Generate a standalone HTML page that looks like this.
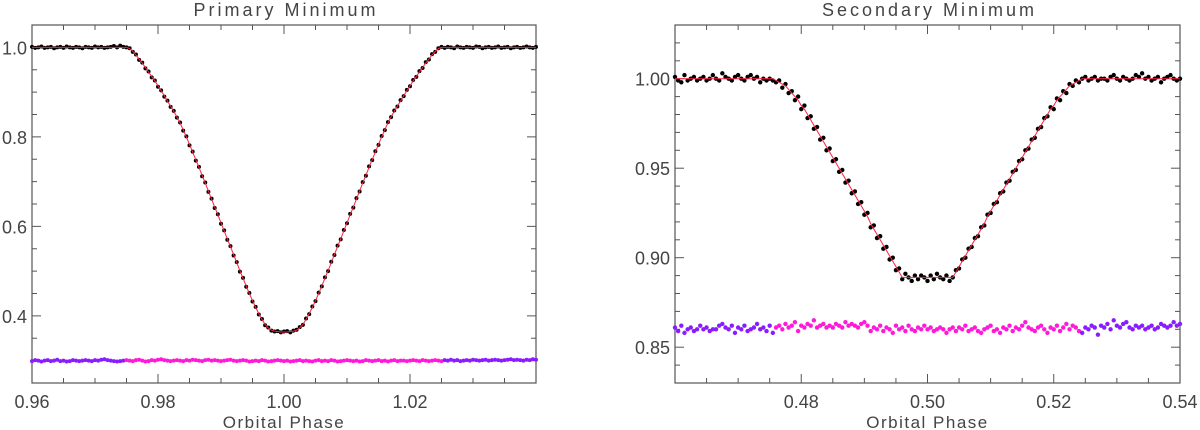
<!DOCTYPE html>
<html><head><meta charset="utf-8">
<style>
html,body{margin:0;padding:0;background:#fff;}
svg{display:block;font-family:"Liberation Sans",sans-serif;}
.tk{font-size:18px;fill:#444;}
.ttl{font-size:18px;fill:#444;letter-spacing:3px;}
.axl{font-size:17px;fill:#444;letter-spacing:1.5px;}
</style></head>
<body>
<svg id="chart" width="1200" height="430" viewBox="0 0 1200 430"></svg>
<script>
// ---------- data ----------
const leftPhaseStart = 0.96, leftPhaseStep = 0.0005;
const leftXTicks = [0.96, 0.98, 1.00, 1.02];
const leftXTickLabels = ["0.96", "0.98", "1.00", "1.02"];
const leftYTicks = [0.4, 0.6, 0.8, 1.0];
const leftYTickLabels = ["0.4", "0.6", "0.8", "1.0"];
const leftObs = [
1.001,0.999,1.000,1.002,0.999,1.000,1.001,0.998,1.000,1.001,0.999,1.002,1.000,0.999,1.001,1.000,0.998,1.001,1.000,0.999,1.002,1.000,1.001,0.999,1.000,1.001,1.003,1.000,1.004,1.001,
1.000,0.998,0.990,0.984,0.972,0.966,0.953,0.946,0.933,0.926,0.912,0.904,0.890,0.881,0.867,0.858,0.843,0.832,0.814,0.801,0.781,0.767,0.747,0.733,0.712,0.698,0.677,0.662,0.641,0.627,0.606,0.591,0.570,0.556,0.535,0.520,0.499,0.485,0.465,0.451,0.432,0.420,0.403,0.393,0.379,0.374,0.367,0.365,0.366,0.363,0.365,
0.366,0.363,0.367,0.369,0.375,0.380,0.394,0.404,0.421,0.433,0.452,0.466,0.486,0.500,0.521,0.536,0.557,0.571,0.592,0.607,0.628,0.642,0.663,0.678,0.699,0.713,0.734,0.748,0.768,0.782,0.802,0.815,0.833,0.844,0.859,0.868,0.882,0.891,0.905,0.913,0.927,0.934,0.947,0.954,0.967,0.973,0.985,0.990,0.998,1.001,
0.999,1.001,1.000,0.998,1.002,1.000,0.999,1.001,1.000,0.999,1.002,1.001,0.998,1.000,1.001,0.999,1.000,1.002,0.999,1.000,1.001,0.998,1.000,1.001,0.999,1.000,1.002,1.000,0.999,1.001];
const leftModel = [
1.000,1.000,1.000,1.000,1.000,1.000,1.000,1.000,1.000,1.000,1.000,1.000,1.000,1.000,1.000,1.000,1.000,1.000,1.000,1.000,1.000,1.000,1.000,1.000,1.000,1.000,1.000,1.000,1.000,1.000,
1.000,0.997,0.991,0.983,0.974,0.965,0.955,0.945,0.935,0.925,0.914,0.903,0.892,0.880,0.869,0.857,0.845,0.831,0.816,0.800,0.783,0.766,0.749,0.732,0.714,0.697,0.679,0.661,0.643,0.626,0.608,0.590,0.572,0.555,0.537,0.519,0.501,0.484,0.467,0.450,0.434,0.419,0.405,0.392,0.381,0.373,0.368,0.366,0.365,0.364,0.364,
0.364,0.365,0.366,0.368,0.373,0.381,0.392,0.405,0.419,0.434,0.450,0.467,0.484,0.501,0.519,0.537,0.555,0.572,0.590,0.608,0.626,0.643,0.661,0.679,0.697,0.714,0.732,0.749,0.766,0.783,0.800,0.816,0.831,0.845,0.857,0.869,0.880,0.892,0.903,0.914,0.925,0.935,0.945,0.955,0.965,0.974,0.983,0.991,0.997,1.000,
1.000,1.000,1.000,1.000,1.000,1.000,1.000,1.000,1.000,1.000,1.000,1.000,1.000,1.000,1.000,1.000,1.000,1.000,1.000,1.000,1.000,1.000,1.000,1.000,1.000,1.000,1.000,1.000,1.000,1.000];
const leftComp = [
0.299,0.301,0.300,0.298,0.300,0.301,0.299,0.300,0.302,0.299,
0.300,0.298,0.299,0.301,0.300,0.299,0.300,0.301,0.300,0.299,
0.301,0.300,0.302,0.303,0.301,0.300,0.299,0.298,0.299,0.300,
0.301,0.300,0.299,0.301,0.302,0.300,0.298,0.299,0.301,0.300,
0.302,0.303,0.301,0.300,0.299,0.300,0.301,0.300,0.299,0.301,
0.300,0.302,0.301,0.300,0.299,0.301,0.302,0.300,0.301,0.300,
0.299,0.300,0.301,0.302,0.300,0.299,0.300,0.301,0.300,0.298,
0.299,0.300,0.299,0.301,0.300,0.298,0.299,0.300,0.301,0.300,
0.299,0.300,0.298,0.299,0.300,0.301,0.299,0.300,0.299,0.298,
0.300,0.301,0.299,0.300,0.299,0.301,0.300,0.298,0.299,0.300,
0.301,0.300,0.299,0.300,0.298,0.299,0.301,0.300,0.299,0.300,
0.301,0.299,0.300,0.298,0.300,0.301,0.299,0.300,0.300,0.299,
0.300,0.301,0.300,0.299,0.301,0.300,0.299,0.300,0.301,0.300,
0.299,0.301,0.300,0.302,0.300,0.301,0.299,0.300,0.301,0.300,
0.302,0.301,0.300,0.301,0.302,0.300,0.301,0.302,0.301,0.300,
0.301,0.302,0.303,0.301,0.302,0.301,0.300,0.302,0.301,0.303,
0.302];
const leftEclipseStart = 0.975, leftEclipseEnd = 1.025;

const rightPhaseStart = 0.46, rightPhaseStep = 0.0005;
const rightXTicks = [0.48, 0.50, 0.52, 0.54];
const rightXTickLabels = ["0.48", "0.50", "0.52", "0.54"];
const rightYTicks = [0.85, 0.90, 0.95, 1.00];
const rightYTickLabels = ["0.85", "0.90", "0.95", "1.00"];
const rightObs = [
1.001,0.999,0.998,1.002,0.999,1.000,1.001,0.999,1.000,1.001,0.999,1.000,1.002,1.000,0.999,1.003,1.001,1.000,0.999,1.001,1.002,1.000,0.999,1.001,1.002,1.000,1.001,0.998,1.000,0.999,1.000,0.999,
0.998,0.999,0.995,0.997,0.992,0.993,0.988,0.990,0.983,0.985,0.978,0.979,0.972,0.973,0.966,0.967,0.960,0.961,0.954,0.955,0.948,0.949,0.942,0.943,0.936,0.937,0.930,0.931,0.924,0.925,0.917,0.918,0.911,0.912,0.905,0.906,0.899,0.900,0.893,0.894,0.888,0.891,0.889,0.887,0.890,0.888,0.890,0.889,0.887,
0.890,0.888,0.891,0.889,0.888,0.890,0.887,0.889,
0.893,0.894,0.899,0.900,0.905,0.906,0.911,0.912,0.917,0.918,0.924,0.925,0.930,0.931,0.936,0.937,0.942,0.943,0.948,0.949,0.954,0.955,0.960,0.961,0.966,0.967,0.972,0.973,0.978,0.979,0.984,0.983,0.989,0.988,0.993,0.992,0.997,0.996,0.999,0.998,
1.000,1.001,0.999,1.000,1.001,0.999,1.000,1.000,0.999,1.001,1.002,1.000,0.999,1.001,1.000,0.999,1.000,1.002,1.001,1.003,1.000,1.001,0.999,1.000,1.001,0.998,1.000,1.001,1.002,1.000,0.999,1.000];
const rightModel = [
1.000,1.000,1.000,1.000,1.000,1.000,1.000,1.000,1.000,1.000,1.000,1.000,1.000,1.000,1.000,1.000,1.000,1.000,1.000,1.000,1.000,1.000,1.000,1.000,1.000,1.000,1.000,1.000,1.000,1.000,1.000,1.000,
0.999,0.998,0.997,0.996,0.994,0.992,0.990,0.988,0.985,0.983,0.980,0.977,0.974,0.971,0.968,0.965,0.962,0.959,0.956,0.953,0.950,0.947,0.944,0.941,0.938,0.935,0.932,0.929,0.926,0.923,0.919,0.916,0.913,0.910,0.907,0.904,0.901,0.898,0.895,0.892,
0.889,0.889,0.889,0.889,0.889,0.889,0.889,0.889,0.889,
0.889,0.889,0.889,0.889,0.889,0.889,0.889,0.889,
0.892,0.895,0.898,0.901,0.904,0.907,0.910,0.913,0.916,0.919,0.923,0.926,0.929,0.932,0.935,0.938,0.941,0.944,0.947,0.950,0.953,0.956,0.959,0.962,0.965,0.968,0.971,0.974,0.977,0.980,0.983,0.985,0.988,0.990,0.992,0.994,0.996,0.997,0.998,0.999,
1.000,1.000,1.000,1.000,1.000,1.000,1.000,1.000,1.000,1.000,1.000,1.000,1.000,1.000,1.000,1.000,1.000,1.000,1.000,1.000,1.000,1.000,1.000,1.000,1.000,1.000,1.000,1.000,1.000,1.000,1.000,1.000];
const rightComp = [
0.861,0.859,0.862,0.858,0.860,0.861,0.859,0.860,0.862,0.860,
0.861,0.859,0.860,0.860,0.862,0.863,0.861,0.860,0.862,0.858,
0.861,0.860,0.862,0.859,0.860,0.861,0.863,0.860,0.861,0.859,
0.862,0.858,0.861,0.862,0.860,0.863,0.861,0.862,0.864,0.859,
0.862,0.861,0.863,0.862,0.865,0.861,0.862,0.863,0.861,0.862,
0.861,0.863,0.862,0.861,0.864,0.862,0.863,0.862,0.861,0.863,
0.864,0.862,0.859,0.861,0.860,0.862,0.859,0.861,0.860,0.858,
0.862,0.860,0.861,0.859,0.862,0.860,0.859,0.861,0.860,0.862,
0.860,0.861,0.859,0.860,0.861,0.860,0.858,0.860,0.861,0.859,
0.861,0.860,0.862,0.859,0.860,0.861,0.859,0.858,0.860,0.861,
0.862,0.859,0.860,0.858,0.861,0.860,0.862,0.859,0.861,0.860,
0.862,0.864,0.861,0.860,0.859,0.861,0.862,0.860,0.858,0.861,
0.860,0.862,0.859,0.861,0.863,0.860,0.862,0.861,0.859,0.858,
0.861,0.860,0.862,0.861,0.857,0.862,0.861,0.863,0.860,0.865,
0.862,0.861,0.863,0.864,0.861,0.860,0.862,0.861,0.862,0.860,
0.861,0.862,0.860,0.861,0.863,0.862,0.861,0.862,0.864,0.862,
0.863];
const rightEclipseStart = 0.476, rightEclipseEnd = 0.524;

// ---------- drawing ----------
const NS = "http://www.w3.org/2000/svg";
const svg = document.getElementById("chart");
function mk(tag, attrs, parent) {
  const e = document.createElementNS(NS, tag);
  for (const k in attrs) e.setAttribute(k, attrs[k]);
  (parent || svg).appendChild(e);
  return e;
}

function drawPanel(cfg) {
  const g = mk("g", {});
  
  
  const xs = v => cfg.x0 + (v - cfg.xmin) / (cfg.xmax - cfg.xmin) * (cfg.x1 - cfg.x0);
  const ys = v => cfg.y1 - (v - cfg.ymin) / (cfg.ymax - cfg.ymin) * (cfg.y1 - cfg.y0);
  const phase = i => cfg.pStart + i * cfg.pStep;

  // minor ticks
  const tg = mk("g", {stroke: "#555", "stroke-width": 1}, g);
  
  
  const nx = Math.round((cfg.xmax - cfg.xmin) / cfg.xMinor);
  for (let k = 0; k <= nx; k++) {
    const v = cfg.xmin + k * cfg.xMinor;
    const major = Math.abs(((v - cfg.xmin) / cfg.xMajor) - Math.round((v - cfg.xmin) / cfg.xMajor)) < 1e-6;
    const L = major ? 9 : 5, X = xs(v);
    mk("line", {x1: X, x2: X, y1: cfg.y1, y2: cfg.y1 - L}, tg);
    mk("line", {x1: X, x2: X, y1: cfg.y0, y2: cfg.y0 + L}, tg);
  }
  const ny = Math.round((cfg.ymax - cfg.ymin) / cfg.yMinor);
  for (let k = 0; k <= ny; k++) {
    const v = cfg.ymin + k * cfg.yMinor;
    const r = (v - cfg.yMajorBase) / cfg.yMajor;
    const major = Math.abs(r - Math.round(r)) < 1e-6;
    const L = major ? 9 : 5, Y = ys(v);
    mk("line", {x1: cfg.x0, x2: cfg.x0 + L, y1: Y, y2: Y}, tg);
    mk("line", {x1: cfg.x1, x2: cfg.x1 - L, y1: Y, y2: Y}, tg);
  }
  const frame = mk("rect", {x: cfg.x0, y: cfg.y0, width: cfg.x1 - cfg.x0, height: cfg.y1 - cfg.y0, fill: "none", stroke: "#555", "stroke-width": 1.2}, g);
  
  

  // tick labels
  cfg.xTicks.forEach((v, i) => {
    const t = mk("text", {x: xs(v), y: 408, "text-anchor": "middle", class: "tk"}, g);
    
    
    t.textContent = cfg.xLabels[i];
  });
  cfg.yTicks.forEach((v, i) => {
    const t = mk("text", {x: cfg.x0 - 5, y: ys(v) + 7, "text-anchor": "end", class: "tk"}, g);
    
    
    t.textContent = cfg.yLabels[i];
  });
  const cx = (cfg.x0 + cfg.x1) / 2;
  const title = mk("text", {x: cx + 2, y: 16, "text-anchor": "middle", class: "ttl"}, g);
  
  
  title.textContent = cfg.title;
  const xl = mk("text", {x: cx, y: 428, "text-anchor": "middle", class: "axl"}, g);
  
  
  xl.textContent = "Orbital Phase";

  // comparison points
  const cg = mk("g", {}, g);
  
  
  cfg.comp.forEach((v, i) => {
    const p = phase(i);
    const out = p < cfg.eS - 1e-9 || p > cfg.eE + 1e-9;
    const c = mk("circle", {cx: xs(p), cy: ys(v), r: cfg.r, fill: out ? "#8a1cff" : "#ff1ad9"}, cg);
    
    
  });
  // observed points
  const og = mk("g", {fill: "#000"}, g);
  
  
  cfg.obs.forEach((v, i) => {
    const c = mk("circle", {cx: xs(phase(i)), cy: ys(v), r: cfg.r}, og);
    
    
  });
  // model line
  const d = cfg.model.map((v, i) => (i ? "L" : "M") + xs(phase(i)).toFixed(2) + " " + ys(v).toFixed(2)).join(" ");
  const ml = mk("path", {d: d, fill: "none", stroke: "#ff2040", "stroke-width": 1}, g);
  
  
}

drawPanel({name: "primary-minimum-panel", title: "Primary Minimum",
  x0: 32, x1: 536, y0: 25, y1: 383, xmin: 0.96, xmax: 1.04, ymin: 0.25, ymax: 1.05,
  xMajor: 0.02, xMinor: 0.005, yMajor: 0.2, yMinor: 0.05, yMajorBase: 0.4,
  xTicks: leftXTicks, xLabels: leftXTickLabels, yTicks: leftYTicks, yLabels: leftYTickLabels,
  pStart: leftPhaseStart, pStep: leftPhaseStep, obs: leftObs, model: leftModel, comp: leftComp,
  eS: leftEclipseStart, eE: leftEclipseEnd, r: 2});
drawPanel({name: "secondary-minimum-panel", title: "Secondary Minimum",
  x0: 675, x1: 1180, y0: 25, y1: 383, xmin: 0.46, xmax: 0.54, ymin: 0.83, ymax: 1.03,
  xMajor: 0.02, xMinor: 0.005, yMajor: 0.05, yMinor: 0.01, yMajorBase: 0.85,
  xTicks: rightXTicks, xLabels: rightXTickLabels, yTicks: rightYTicks, yLabels: rightYTickLabels,
  pStart: rightPhaseStart, pStep: rightPhaseStep, obs: rightObs, model: rightModel, comp: rightComp,
  eS: rightEclipseStart, eE: rightEclipseEnd, r: 2.2});
</script>
</body></html>
